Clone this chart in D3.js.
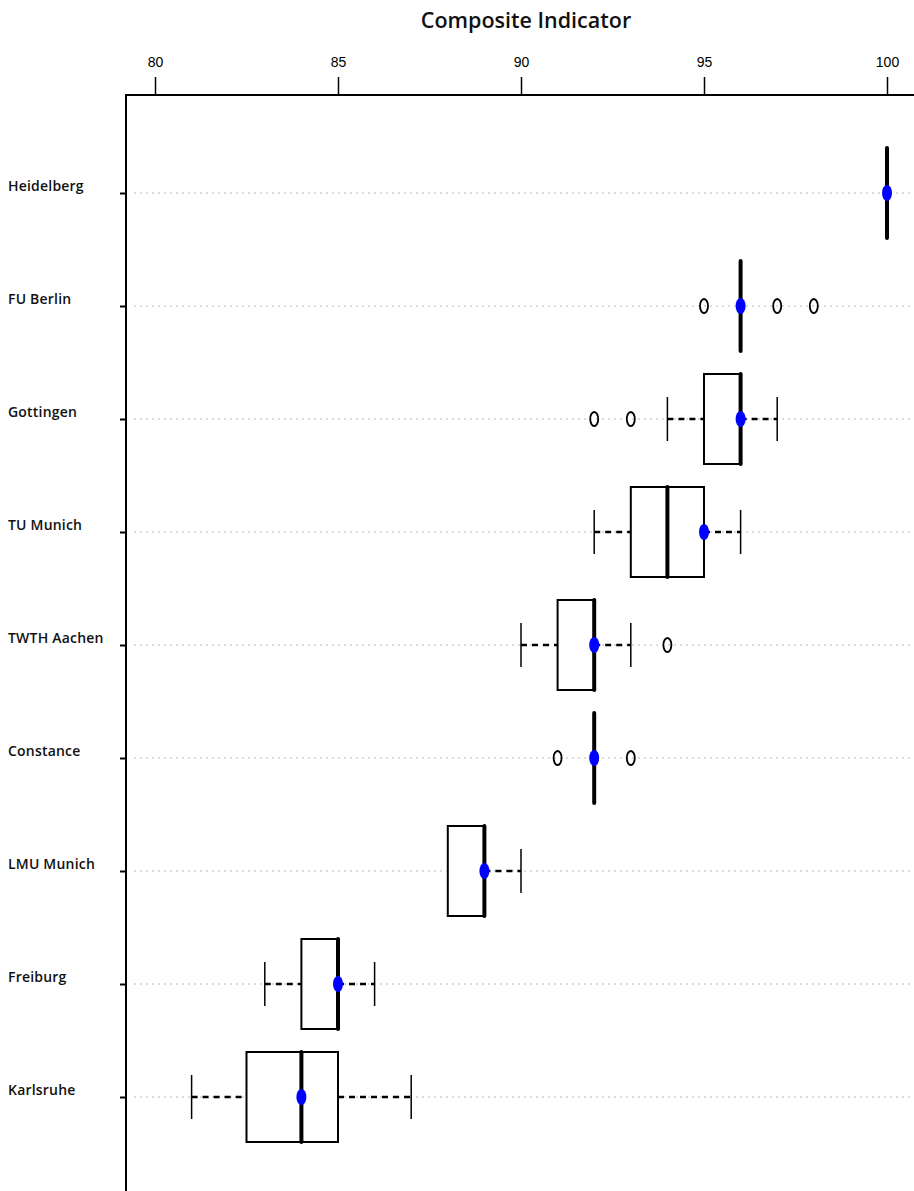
<!DOCTYPE html>
<html>
<head>
<meta charset="utf-8">
<script src="https://cdn.jsdelivr.net/npm/d3@7"></script>
<style>
  body { margin: 0; background: #fff; }
  svg { display: block; }
</style>
</head>
<body>
<div id="container"></div>
<script>
const universities = ["Heidelberg", "FU Berlin", "Gottingen", "TU Munich", "TWTH Aachen",
  "Constance", "LMU Munich", "Freiburg", "Karlsruhe"];
const lowerWhisker = [100, 96, 94, 92, 90, 92, 88, 83, 81];
const q1 = [100, 96, 95, 93, 91, 92, 88, 84, 82.5];
const medians = [100, 96, 96, 94, 92, 92, 89, 85, 84];
const q3 = [100, 96, 96, 95, 92, 92, 89, 85, 85];
const upperWhisker = [100, 96, 97, 96, 93, 92, 90, 86, 87];
const actual = [100, 96, 96, 95, 92, 92, 89, 85, 84];
const outliers = [[], [95, 97, 98], [92, 93], [], [94], [91, 93], [], [], []];
const xTicks = [80, 85, 90, 95, 100];

const w = 914;
const h = 1191;
const axisY = 95;
const axisX = 126;
const boxHalf = 45;
const capHalf = 22;

const rows = universities.map((name, i) => ({
  name,
  lo: lowerWhisker[i],
  q1: q1[i],
  med: medians[i],
  q3: q3[i],
  hi: upperWhisker[i],
  act: actual[i],
  out: outliers[i],
}));

const svg = d3
  .select("#container")
  .append("svg")
  .attr("width", w)
  .attr("height", h)
  .attr("viewBox", `0 0 ${w} ${h}`);

const xScale = d3.scaleLinear().domain([80, 100]).range([155, 887]);
const yScale = d3.scalePoint().domain(universities).range([193, 1097]);

// title
svg
  .append("text")
  .attr("x", 526)
  .attr("y", 28)
  .attr("text-anchor", "middle")
  .attr("font-family", "Open Sans, sans-serif")
  .attr("font-size", 21.5)
  .attr("font-weight", 600)
  .attr("fill", "#111")
  .text("Composite Indicator");

// dotted row guides
svg
  .selectAll("line.guide")
  .data(universities)
  .enter()
  .append("line")
  .attr("class", "guide")
  .attr("x1", axisX + 8)
  .attr("x2", w)
  .attr("y1", (d) => yScale(d))
  .attr("y2", (d) => yScale(d))
  .attr("stroke", "#b8b8b8")
  .attr("stroke-width", 1)
  .attr("stroke-dasharray", "2,4");

// top axis
const xAxis = d3.axisTop(xScale).tickValues(xTicks).tickSize(18).tickPadding(10);
const gx = svg
  .append("g")
  .attr("id", "x-axis")
  .attr("transform", `translate(0, ${axisY})`)
  .call(xAxis);
gx.select(".domain").remove();
gx.selectAll(".tick line").attr("stroke", "#000").attr("stroke-width", 1.5);
gx.selectAll(".tick text")
  .attr("font-family", "Liberation Sans Narrow, Liberation Sans, sans-serif")
  .attr("font-size", 14)
  .attr("fill", "#000");
svg
  .append("line")
  .attr("x1", axisX - 1)
  .attr("x2", w)
  .attr("y1", axisY)
  .attr("y2", axisY)
  .attr("stroke", "#000")
  .attr("stroke-width", 2);

// left axis
const yAxis = d3.axisLeft(yScale).tickSize(6).tickFormat("");
const gy = svg
  .append("g")
  .attr("id", "y-axis")
  .attr("transform", `translate(${axisX}, 0)`)
  .call(yAxis);
gy.select(".domain").remove();
gy.selectAll(".tick line").attr("stroke", "#000").attr("stroke-width", 2);
svg
  .append("line")
  .attr("x1", axisX)
  .attr("x2", axisX)
  .attr("y1", axisY)
  .attr("y2", h)
  .attr("stroke", "#000")
  .attr("stroke-width", 2);

svg
  .selectAll("text.label")
  .data(universities)
  .enter()
  .append("text")
  .attr("class", "label")
  .attr("x", 8)
  .attr("y", (d) => yScale(d) - 2)
  .attr("font-family", "Open Sans, sans-serif")
  .attr("font-size", 14)
  .attr("font-weight", 600)
  .attr("letter-spacing", 0.2)
  .attr("fill", "#111")
  .text((d) => d);

// boxes
const g = svg
  .selectAll("g.box")
  .data(rows)
  .enter()
  .append("g")
  .attr("class", "box")
  .attr("transform", (d) => `translate(0, ${yScale(d.name)})`);

// whiskers
g.filter((d) => d.lo < d.q1)
  .append("line")
  .attr("x1", (d) => xScale(d.lo))
  .attr("x2", (d) => xScale(d.q1))
  .attr("stroke", "#000")
  .attr("stroke-width", 2.5)
  .attr("stroke-dasharray", "6,5");
g.filter((d) => d.hi > d.q3)
  .append("line")
  .attr("x1", (d) => xScale(d.q3))
  .attr("x2", (d) => xScale(d.hi))
  .attr("stroke", "#000")
  .attr("stroke-width", 2.5)
  .attr("stroke-dasharray", "6,5");

// caps
g.filter((d) => d.lo < d.q1)
  .append("line")
  .attr("x1", (d) => xScale(d.lo))
  .attr("x2", (d) => xScale(d.lo))
  .attr("y1", -capHalf)
  .attr("y2", capHalf)
  .attr("stroke", "#000")
  .attr("stroke-width", 1.5);
g.filter((d) => d.hi > d.q3)
  .append("line")
  .attr("x1", (d) => xScale(d.hi))
  .attr("x2", (d) => xScale(d.hi))
  .attr("y1", -capHalf)
  .attr("y2", capHalf)
  .attr("stroke", "#000")
  .attr("stroke-width", 1.5);

// box rectangles
g.filter((d) => d.q3 > d.q1)
  .append("rect")
  .attr("x", (d) => xScale(d.q1))
  .attr("y", -boxHalf)
  .attr("width", (d) => xScale(d.q3) - xScale(d.q1))
  .attr("height", boxHalf * 2)
  .attr("fill", "#fff")
  .attr("stroke", "#000")
  .attr("stroke-width", 2);

// medians
g.append("line")
  .attr("x1", (d) => xScale(d.med))
  .attr("x2", (d) => xScale(d.med))
  .attr("y1", -boxHalf)
  .attr("y2", boxHalf)
  .attr("stroke", "#000")
  .attr("stroke-width", 4)
  .attr("stroke-linecap", "round");

// outliers
g.selectAll("ellipse.out")
  .data((d) => d.out)
  .enter()
  .append("ellipse")
  .attr("class", "out")
  .attr("cx", (v) => xScale(v))
  .attr("cy", 0)
  .attr("rx", 4)
  .attr("ry", 7)
  .attr("fill", "none")
  .attr("stroke", "#000")
  .attr("stroke-width", 1.8);

// actual values
g.append("ellipse")
  .attr("cx", (d) => xScale(d.act))
  .attr("cy", 0)
  .attr("rx", 5)
  .attr("ry", 8)
  .attr("fill", "#0000ff");
</script>
</body>
</html>
